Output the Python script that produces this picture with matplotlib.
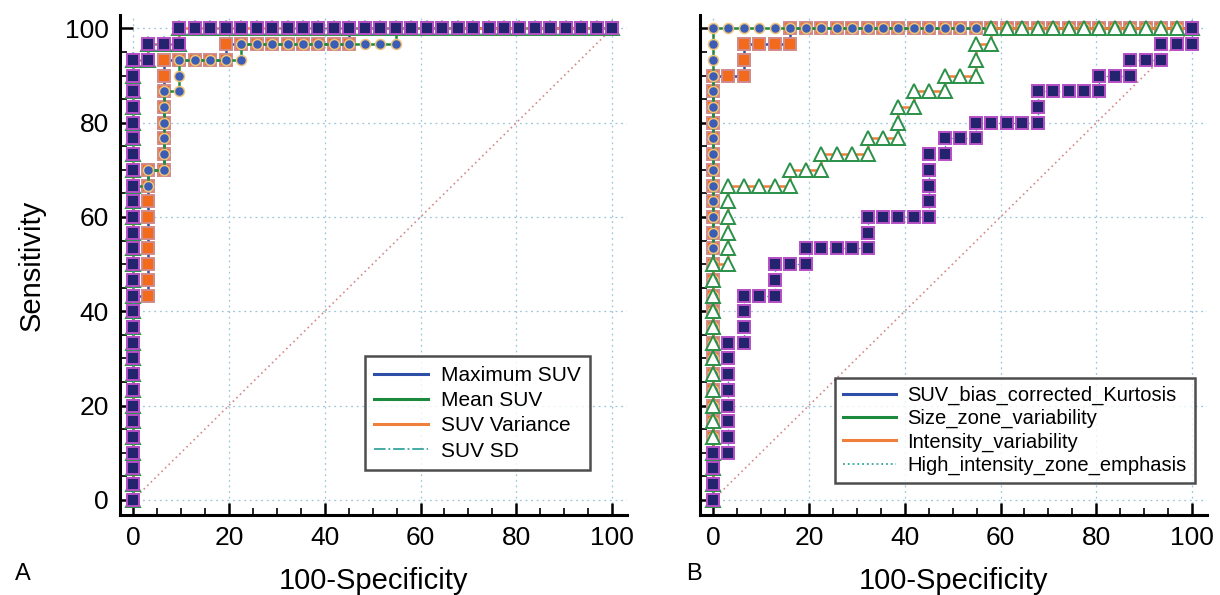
import numpy as np
import matplotlib
matplotlib.use("Agg")
import matplotlib.pyplot as plt
from matplotlib.lines import Line2D

plt.rcParams['font.family'] = ['Liberation Sans', 'DejaVu Sans']

# Group sizes (30 positive, 31 negative cases)
N_POS = 30
N_NEG = 31

# ROC curves as run lengths of steps: up, right, up, right, ...
# Panel A
max_suv_runs = [13, 1, 8, 1, 7, 4, 1, 8, 1, 17]
mean_suv_runs = [20, 1, 1, 1, 5, 1, 2, 4, 1, 10, 1, 14]
suv_var_runs = [28, 1, 1, 2, 1, 28]
suv_sd_runs = [28, 1, 1, 2, 1, 28]
labels_a = ["Maximum SUV", "Mean SUV", "SUV Variance", "SUV SD"]

# Panel B
kurtosis_runs = [27, 2, 2, 3, 1, 26]
size_zone_runs = [30, 31]
intensity_runs = [15, 1, 5, 4, 1, 2, 1, 3, 1, 2, 2, 1, 1, 2, 1, 2, 2, 1, 1, 13]
hize_runs = [3, 1, 7, 1, 3, 2, 2, 2, 1, 4, 2, 4, 4, 1, 1, 2, 1, 4, 2, 4, 1, 2, 1, 2, 1, 2, 1]
labels_b = ["SUV_bias_corrected_Kurtosis", "Size_zone_variability",
            "Intensity_variability", "High_intensity_zone_emphasis"]

ticks = [0, 20, 40, 60, 80, 100]

# Line colours (legend) and marker styles, in drawing order
line_colors = ["#2e4fa8", "#1b8a3c", "#f07f3c", "#35a59c"]
marker_styles = [
    dict(marker="s", markersize=8.5, markerfacecolor="#f26b1d", markeredgecolor="#d08a8a", markeredgewidth=1.4),
    dict(marker="o", markersize=7.2, markerfacecolor="#3c5db5", markeredgecolor="#eec57a", markeredgewidth=1.1),
    dict(marker="^", markersize=10, markerfacecolor="white", markeredgecolor="#2a9148", markeredgewidth=1.4),
    dict(marker="s", markersize=8.5, markerfacecolor="#24246e", markeredgecolor="#b54fc6", markeredgewidth=1.4),
]


def roc_points(runs):
    """Turn run lengths into the ROC step points (in percent)."""
    fp, tp = 0, 0
    xs, ys = [0.0], [0.0]
    for i, n in enumerate(runs):
        for _ in range(n):
            if i % 2 == 0:
                tp += 1
            else:
                fp += 1
            xs.append(100.0 * fp / N_NEG)
            ys.append(100.0 * tp / N_POS)
    return np.array(xs), np.array(ys)


def draw_panel(ax, curves, last_style, show_ylabels):
    ax.plot([0, 100], [0, 100], linestyle=(0, (1, 2)), color="#d48a8a", lw=1.2, zorder=1)
    for i, runs in enumerate(curves):
        x, y = roc_points(runs)
        ls = last_style if i == 3 else "-"
        lw = 1.0 if i == 3 else 1.8
        ax.plot(x, y, linestyle=ls, lw=lw, color=line_colors[i], zorder=3 + i, **marker_styles[i])

    ax.set_xlim(-2.7, 103.1)
    ax.set_ylim(-3.2, 102.8)
    ax.set_xticks(ticks)
    ax.set_yticks(ticks)
    ax.set_xticks(np.arange(0, 101, 5), minor=True)
    ax.set_yticks(np.arange(0, 101, 5), minor=True)
    ax.tick_params(which="major", direction="in", length=9, width=1.8, labelsize=19, pad=8)
    ax.tick_params(which="minor", direction="in", length=5, width=1.2)
    if not show_ylabels:
        ax.tick_params(axis="y", labelleft=False)

    for side in ["top", "right"]:
        ax.spines[side].set_visible(False)
    for side in ["left", "bottom"]:
        ax.spines[side].set_linewidth(2.2)

    ax.grid(True, which="major", color="#9cc6dc", linestyle=(0, (1.5, 3)), lw=0.9)
    ax.set_axisbelow(True)
    ax.set_xlabel("100-Specificity", fontsize=21, labelpad=12)

    handles = [Line2D([0], [0], color=line_colors[i], lw=2.2 if i < 3 else 1.3,
                      linestyle="-" if i < 3 else last_style) for i in range(4)]
    return handles


fig = plt.figure(figsize=(12.2, 5.95), dpi=100)
ax_a = fig.add_axes([0.0984, 0.1345, 0.4156, 0.840])
ax_b = fig.add_axes([0.5738, 0.1345, 0.4156, 0.840])

h_a = draw_panel(ax_a, [max_suv_runs, mean_suv_runs, suv_var_runs, suv_sd_runs], "-.", True)
h_b = draw_panel(ax_b, [kurtosis_runs, size_zone_runs, intensity_runs, hize_runs], ":", False)

ax_a.set_ylabel("Sensitivity", fontsize=21, labelpad=14)

leg_a = ax_a.legend(h_a, labels_a, loc="lower right", bbox_to_anchor=(0.927, 0.09),
                    borderaxespad=0, fontsize=15, frameon=True, fancybox=False,
                    handlelength=2.6, labelspacing=0.3, borderpad=0.45, handletextpad=0.6)
leg_b = ax_b.legend(h_b, labels_b, loc="lower right", bbox_to_anchor=(0.976, 0.064),
                    borderaxespad=0, fontsize=14.5, frameon=True, fancybox=False,
                    handlelength=2.6, labelspacing=0.2, borderpad=0.4, handletextpad=0.6)
for leg in (leg_a, leg_b):
    leg.get_frame().set_edgecolor("#222222")
    leg.get_frame().set_linewidth(1.8)
    leg.set_zorder(20)

fig.text(0.012, 0.025, "A", fontsize=17)
fig.text(0.562, 0.025, "B", fontsize=17)

fig.savefig("out.png", dpi=100)
